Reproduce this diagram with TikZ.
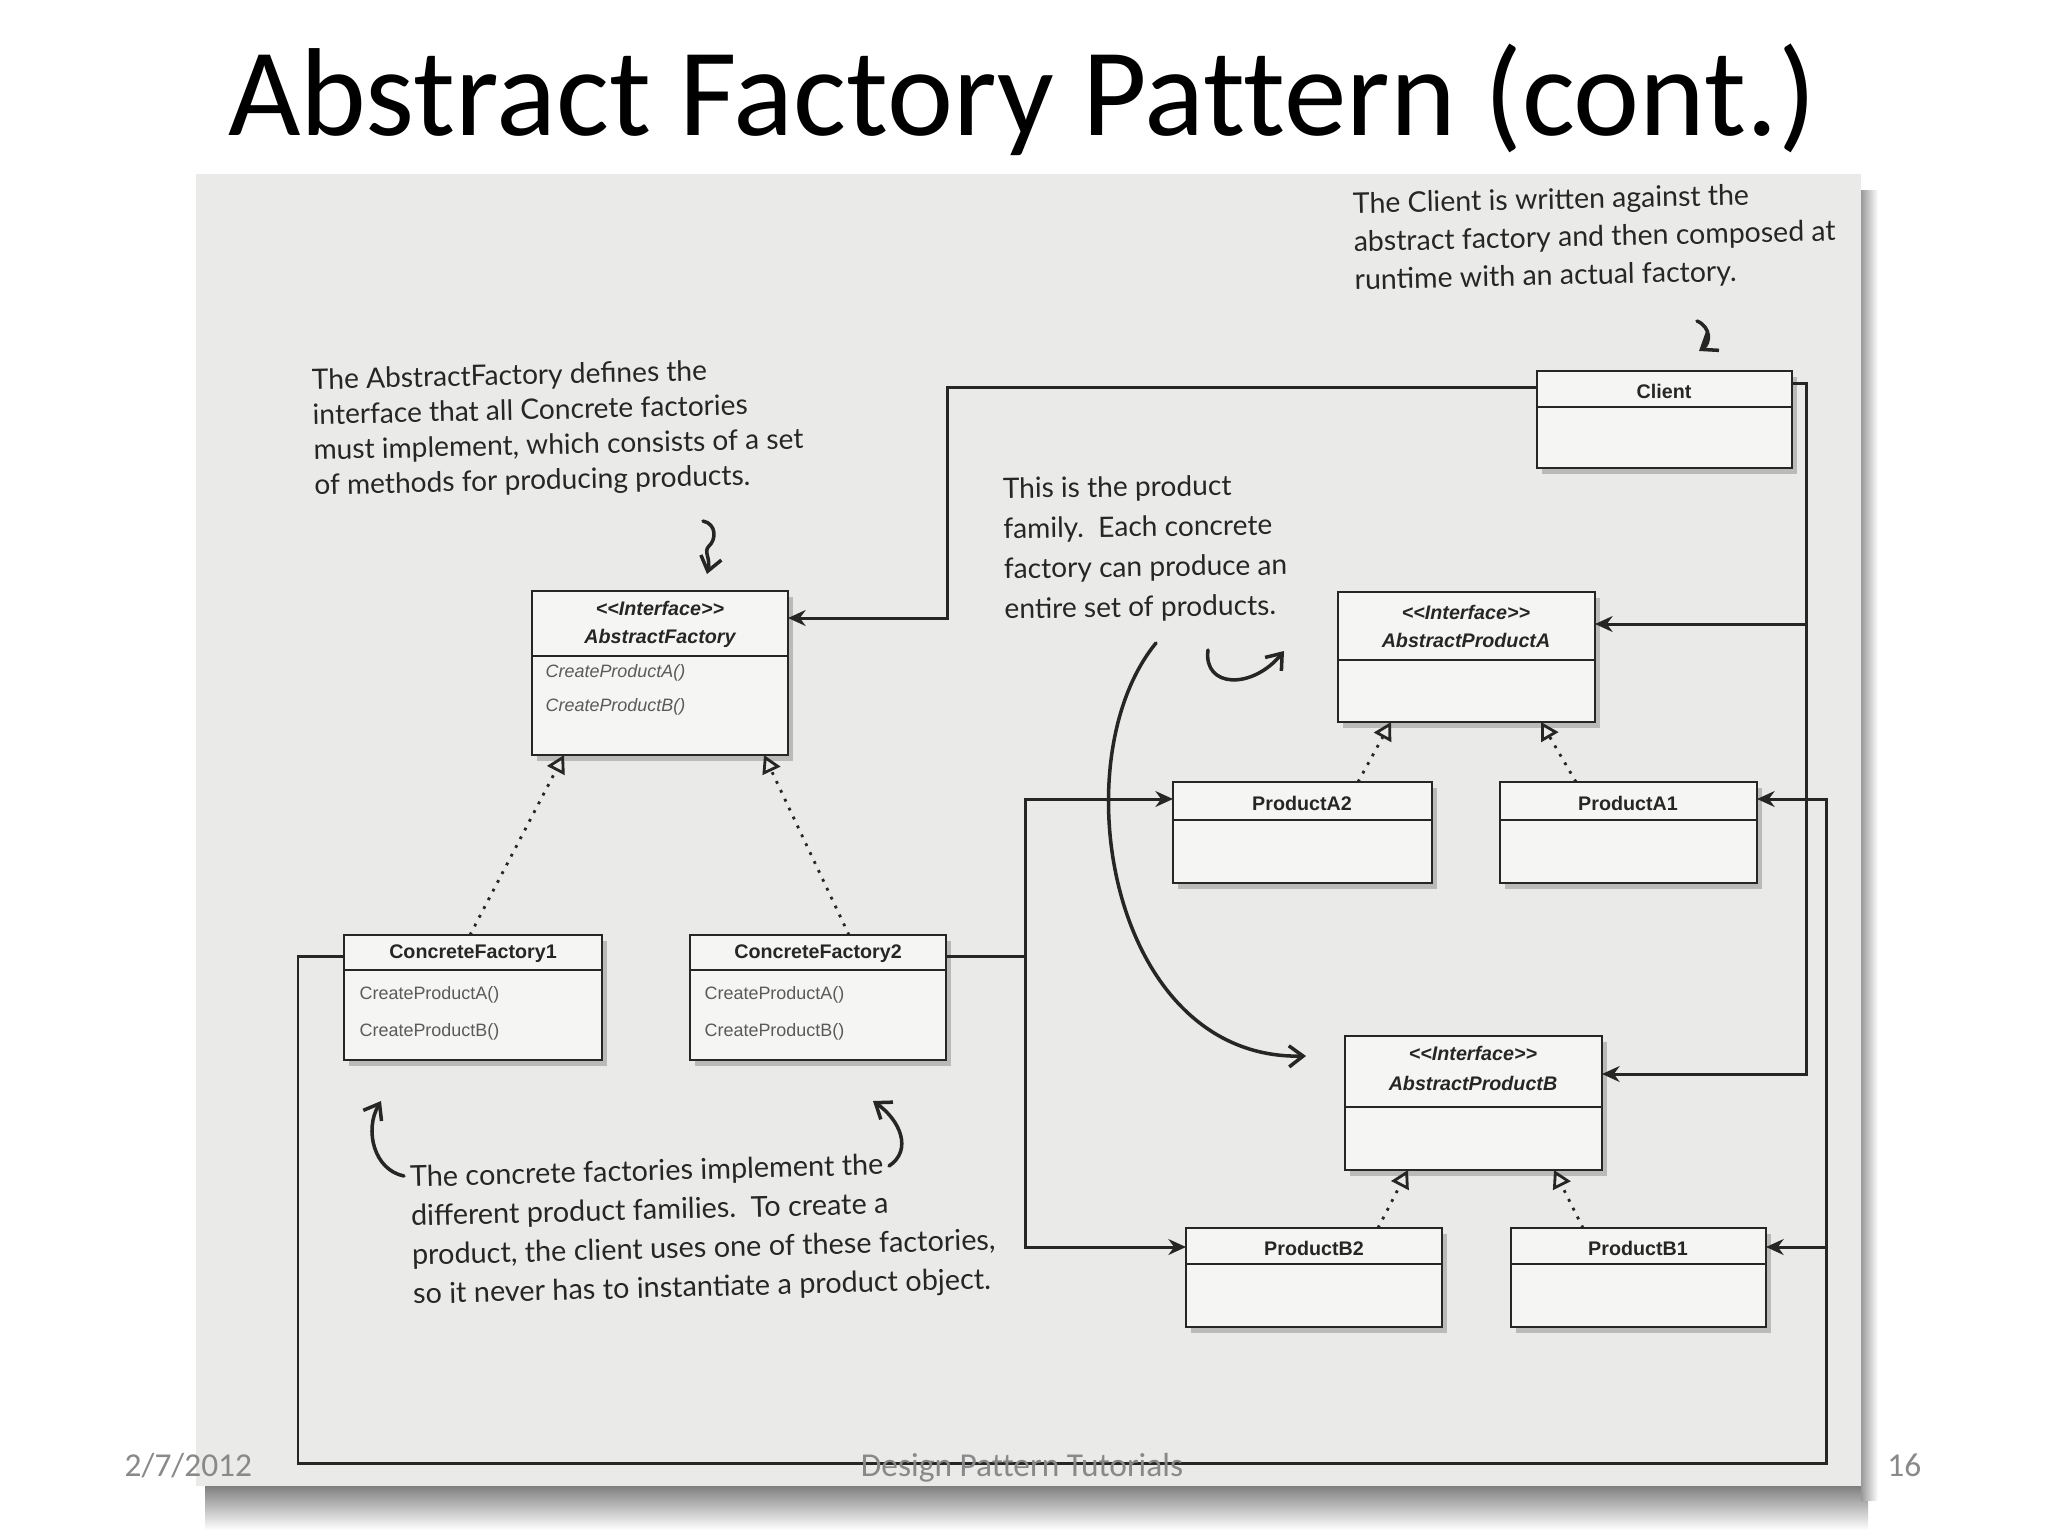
\documentclass[tikz,border=0pt]{standalone}
\usepackage{fontspec}
\setmainfont{Liberation Sans}
\newfontfamily\titlefont{Carlito}[Ligatures=NoCommon]
\newfontfamily\annfont{Lato}
\usetikzlibrary{arrows.meta,shadows}
\definecolor{pagebg}{RGB}{234,234,232}
\definecolor{boxbg}{RGB}{245,245,243}
\definecolor{ink}{RGB}{38,38,38}
\definecolor{methodgray}{RGB}{90,90,90}
\definecolor{footgray}{RGB}{137,137,137}
\newcommand\stereo[1]{<\kern0pt<#1>\kern0pt>}
\tikzset{
  umlbox/.style={draw=ink, line width=0.6pt, fill=boxbg, inner sep=0pt, outer sep=0pt,
    drop shadow={shadow xshift=0.05cm, shadow yshift=-0.06cm, opacity=0.3, fill=black!70}},
  sepline/.style={draw=ink, line width=0.6pt},
  cname/.style={font=\fontsize{5.6}{6.5}\selectfont\bfseries, text=ink, inner sep=0pt},
  iname/.style={font=\fontsize{5.6}{6.5}\selectfont\bfseries\itshape, text=ink, inner sep=0pt},
  meth/.style={font=\fontsize{5.1}{6}\selectfont, text=methodgray, anchor=west, inner sep=0pt},
  imeth/.style={meth, font=\fontsize{5.1}{6}\selectfont\itshape},
  assoc/.style={draw=ink, line width=0.85pt, -{Stealth[length=5pt,width=4.5pt]}},
  wire/.style={draw=ink, line width=0.85pt},
  gen/.style={draw=ink, line width=0.8pt, dotted, -{Triangle[open,length=5pt,width=5.5pt]}},
  hand/.style={draw=ink, line width=1pt, line cap=round, -{Straight Barb[length=4pt,width=6pt]}},
  note/.style={text=ink, align=left, inner sep=0pt, anchor=north west},
  foot/.style={font=\titlefont\fontsize{9.5}{11}\selectfont, text=footgray, inner sep=0pt},
}
\newcommand\umlbox[6]{%
  \node[umlbox, anchor=north west, minimum width={(#4-#2)*0.01cm}, minimum height={(#5-#3)*0.01cm}] (#1) at (#2,#3) {};
  \draw[sepline] (#1.west |- 0,#6) -- (#1.east |- 0,#6);
}
\begin{document}
\begin{tikzpicture}[x=0.01cm,y=-0.01cm]
\useasboundingbox (0,0) rectangle (2048,1536);
\fill[white] (0,0) rectangle (2048,1536);
% scanned page with shadow
\shade[top color=black!50, bottom color=white] (205,1486) rectangle (1868,1530);
\shade[left color=black!40, right color=white] (1861,190) rectangle (1878,1500);
\fill[pagebg] (196,174) rectangle (1861,1486);

% title
\node[font=\titlefont\fontsize{35.6}{40}\selectfont, anchor=base, inner sep=0pt] (title) at (1022,135) {Abstract Factory Pattern (cont.)};

% boxes
\umlbox{AF}{532}{591}{788}{755}{656}
\umlbox{CL}{1537}{371}{1792}{468}{407}
\umlbox{APA}{1338}{592}{1595}{722}{660}
\umlbox{APB}{1345}{1036}{1602}{1170}{1107}
\umlbox{PA2}{1173}{782}{1432}{883}{820}
\umlbox{PA1}{1500}{782}{1757}{883}{820}
\umlbox{PB2}{1186}{1228}{1442}{1327}{1264}
\umlbox{PB1}{1511}{1228}{1766}{1327}{1264}
\umlbox{CF1}{344}{935}{602}{1060}{970}
\umlbox{CF2}{690}{935}{946}{1060}{970}

% box texts
\node[iname] (AFs) at (660,608) {\stereo{Interface}};
\node[iname] (AFn) at (660,638) {AbstractFactory};
\node[imeth] (AFm1) at (545,673) {CreateProductA()};
\node[imeth] (AFm2) at (545,707) {CreateProductB()};
\node[cname] (CLn) at (1664,391) {Client};
\node[iname] (APAs) at (1466,612) {\stereo{Interface}};
\node[iname] (APAn) at (1466,640) {AbstractProductA};
\node[iname] (APBs) at (1473,1053) {\stereo{Interface}};
\node[iname] (APBn) at (1473,1083) {AbstractProductB};
\node[cname] (PA2n) at (1302,803) {ProductA2};
\node[cname] (PA1n) at (1628,803) {ProductA1};
\node[cname] (PB2n) at (1314,1248) {ProductB2};
\node[cname] (PB1n) at (1638,1248) {ProductB1};
\node[cname] (CF1n) at (473,954) {ConcreteFactory1};
\node[cname] (CF2n) at (818,954) {ConcreteFactory2};
\node[meth] (CF1m1) at (359,995) {CreateProductA()};
\node[meth] (CF1m2) at (359,1032) {CreateProductB()};
\node[meth] (CF2m1) at (704,995) {CreateProductA()};
\node[meth] (CF2m2) at (704,1032) {CreateProductB()};

% client -> abstract factory
\coordinate (j1) at (947,387);
\coordinate (j2) at (947,618);
\draw[assoc] (CL.west |- j1) -- (j1) -- (j2) -- (AF.east |- j2);

% client -> abstract products
\coordinate (b0) at (1806,383);
\coordinate (bA) at (1806,624);
\coordinate (bB) at (1806,1074);
\draw[wire] (CL.east |- b0) -- (b0) -- (bA);
\draw[assoc] (bA) -- (APA.east |- bA);
\draw[assoc] (bA) -- (bB) -- (APB.east |- bB);

% concrete factory 1 -> products 1
\coordinate (c0) at (298,956);
\coordinate (c1) at (298,1463);
\coordinate (c2) at (1826,1463);
\coordinate (cB) at (1826,1247);
\coordinate (cA) at (1826,799);
\draw[wire] (CF1.west |- c0) -- (c0) -- (c1) -- (c2) -- (cB);
\draw[assoc] (cB) -- (PB1.east |- cB);
\draw[assoc] (cB) -- (cA) -- (PA1.east |- cA);

% concrete factory 2 -> products 2
\coordinate (d0) at (1025,956);
\coordinate (dA) at (1025,799);
\coordinate (dB) at (1025,1247);
\draw[wire] (CF2.east |- d0) -- (d0);
\draw[assoc] (d0) -- (dA) -- (PA2.west |- dA);
\draw[assoc] (d0) -- (dB) -- (PB2.west |- dB);

% generalizations
\draw[gen] (CF1.north -| 470,0) -- (AF.south -| 564,0);
\draw[gen] (CF2.north -| 849,0) -- (AF.south -| 764,0);
\draw[gen] (PA2.north -| 1358,0) -- (APA.south -| 1391,0);
\draw[gen] (PA1.north -| 1576,0) -- (APA.south -| 1541,0);
\draw[gen] (PB2.north -| 1378,0) -- (APB.south -| 1408,0);
\draw[gen] (PB1.north -| 1583,0) -- (APB.south -| 1554,0);

% annotations
\node[note, rotate=1.3, font=\annfont\fontsize{8}{10}\selectfont] (n1) at (311,368)
  {The AbstractFactory defines the\\interface that all Concrete factories\\must implement, which consists of a set\\of methods for producing products.};
\node[note, rotate=0.8, font=\annfont\fontsize{8}{11.4}\selectfont] (n2) at (1002,477)
  {This is the product\\family.\ \ Each concrete\\factory can produce an\\entire set of products.};
\node[note, rotate=1.3, font=\annfont\fontsize{8.1}{10.8}\selectfont] (n3) at (1352,192)
  {The Client is written against the\\abstract factory and then composed at\\runtime with an actual factory.};
\node[note, rotate=1.5, font=\annfont\fontsize{8.2}{11.1}\selectfont] (n4) at (409,1165)
  {The concrete factories implement the\\different product families.\ \ To create a\\product, the client uses one of these factories,\\so it never has to instantiate a product object.};

% hand-drawn pointers
\draw[hand] (703,521) .. controls (717,524) and (716,540) .. (709,546) .. controls (703,552) and (711,558) .. (707,574);
\draw[hand] (1697,321) .. controls (1711,327) and (1711,343) .. (1699,351);
\draw[hand] (1156,643) .. controls (1060,760) and (1110,1060) .. (1306,1056);
\draw[hand] (1208,650) .. controls (1203,688) and (1252,690) .. (1284,651);
\draw[hand] (404,1176) .. controls (374,1170) and (364,1130) .. (381,1101);
\draw[hand] (889,1166) .. controls (913,1150) and (900,1120) .. (873,1101);

% footer
\node[foot, anchor=base west] (date) at (124,1476) {2/7/2012};
\node[foot, anchor=base] (ftitle) at (1022,1476) {Design Pattern Tutorials};
\node[foot, anchor=base east] (pnum) at (1922,1476) {16};
\end{tikzpicture}
\end{document}
